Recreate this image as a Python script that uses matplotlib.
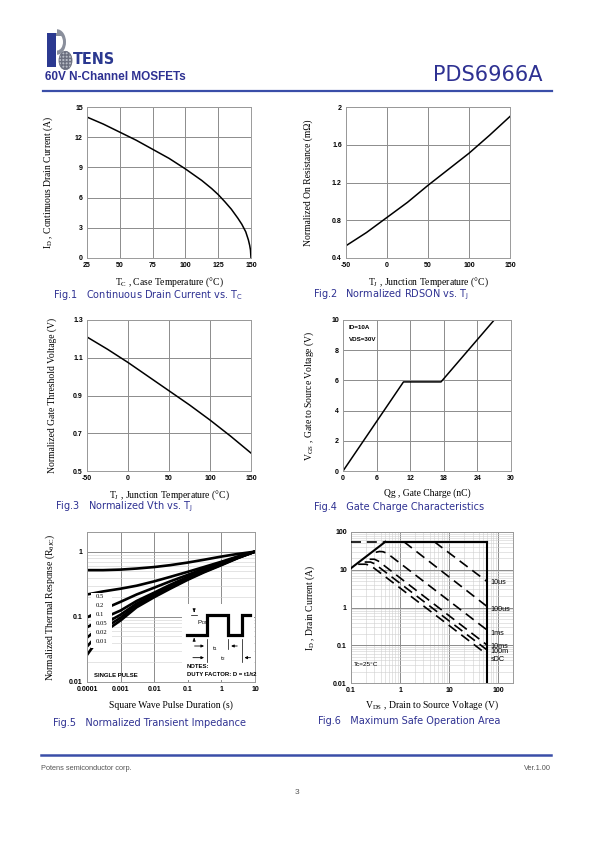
import matplotlib
matplotlib.use('Agg')
import matplotlib.pyplot as plt
from matplotlib.patches import Rectangle, Circle, Wedge
from matplotlib.lines import Line2D

plt.rcParams['font.family'] = ['Liberation Sans', 'DejaVu Sans']
plt.rcParams['mathtext.fontset'] = 'custom'
plt.rcParams['mathtext.rm'] = 'Liberation Serif'
plt.rcParams['mathtext.it'] = 'Liberation Serif:italic'
plt.rcParams['mathtext.bf'] = 'Liberation Serif:bold'
plt.rcParams['mathtext.sf'] = 'DejaVu Sans'

# ---------------- data ----------------
# Fig.1 continuous drain current vs case temperature
fig1_tc = [25, 37.5, 50, 62.5, 75, 87.5, 100, 112.5, 120, 125, 130, 135, 140, 143, 146, 148, 149, 149.6, 150]
fig1_id = [14.0, 13.3, 12.5, 11.7, 10.8, 9.9, 8.85, 7.7, 6.9, 6.3, 5.6, 4.85, 3.95, 3.35, 2.6, 1.8, 1.25, 0.8, 0.0]
fig1_xticks = [25, 50, 75, 100, 125, 150]
fig1_yticks = [0, 3, 6, 9, 12, 15]

# Fig.2 normalized RDSON vs TJ
fig2_tj = [-50, -25, 0, 25, 50, 75, 100, 125, 150]
fig2_r = [0.53, 0.67, 0.83, 0.99, 1.17, 1.34, 1.51, 1.70, 1.90]
fig2_xticks = [-50, 0, 50, 100, 150]
fig2_yticks = [0.4, 0.8, 1.2, 1.6, 2.0]
fig2_yticklabels = ['0.4', '0.8', '1.2', '1.6', '2']

# Fig.3 normalized Vth vs TJ
fig3_tj = [-50, -25, 0, 25, 50, 75, 100, 125, 150]
fig3_v = [1.21, 1.145, 1.075, 1.0, 0.925, 0.85, 0.77, 0.685, 0.595]
fig3_xticks = [-50, 0, 50, 100, 150]
fig3_yticks = [0.5, 0.7, 0.9, 1.1, 1.3]

# Fig.4 gate charge
fig4_qg = [0, 10.8, 17.5, 27]
fig4_vgs = [0, 5.9, 5.9, 10]
fig4_xticks = [0, 6, 12, 18, 24, 30]
fig4_yticks = [0, 2, 4, 6, 8, 10]

# Fig.5 normalized transient impedance
fig5_t = [1e-4, 3e-4, 1e-3, 3e-3, 1e-2, 3e-2, 0.1, 0.3, 1, 3, 10]
fig5_d05 = [0.52, 0.52, 0.53, 0.55, 0.58, 0.62, 0.68, 0.75, 0.84, 0.92, 1.0]
fig5_d02 = [0.22, 0.245, 0.27, 0.30, 0.35, 0.41, 0.49, 0.58, 0.70, 0.84, 1.0]
fig5_d01 = [0.098, 0.13, 0.17, 0.22, 0.28, 0.35, 0.44, 0.55, 0.67, 0.82, 1.0]
fig5_d005 = [0.069, 0.095, 0.125, 0.175, 0.235, 0.31, 0.41, 0.52, 0.65, 0.81, 1.0]
fig5_d002 = [0.048, 0.076, 0.108, 0.16, 0.22, 0.29, 0.39, 0.50, 0.64, 0.80, 1.0]
fig5_d001 = [0.035, 0.065, 0.097, 0.15, 0.21, 0.28, 0.38, 0.49, 0.63, 0.80, 1.0]
fig5_single = [0.026, 0.057, 0.088, 0.14, 0.20, 0.27, 0.37, 0.48, 0.62, 0.79, 1.0]
fig5_labels = ['0.5', '0.2', '0.1', '0.05', '0.02', '0.01']
fig5_xticks = [1e-4, 1e-3, 1e-2, 1e-1, 1, 10]
fig5_xticklabels = ['0.0001', '0.001', '0.01', '0.1', '1', '10']
fig5_yticks = [0.01, 0.1, 1]
fig5_yticklabels = ['0.01', '0.1', '1']

# Fig.6 safe operating area
soa_rds_v = [0.1, 0.5]
soa_rds_i = [11, 55]
soa_ilim_v = [0.1, 0.5]
soa_ilim_i = [55, 55]
soa_top_v = [0.5, 60]
soa_top_i = [55, 55]
soa_vmax_v = [60, 60]
soa_vmax_i = [55, 0.01]
soa_10us_v = [5, 60]
soa_10us_i = [55, 4.8]
soa_100us_v = [1.2, 60]
soa_100us_i = [55, 1.05]
soa_1ms_v = [0.32, 0.38, 0.45, 0.55, 60]
soa_1ms_i = [29, 30.5, 30, 27, 0.25]
soa_10ms_v = [0.24, 0.3, 0.36, 60]
soa_10ms_i = [19, 19, 17, 0.1]
soa_100ms_v = [0.19, 0.25, 0.3, 60]
soa_100ms_i = [16, 16, 14.5, 0.074]
soa_dc_v = [0.14, 0.2, 0.25, 60]
soa_dc_i = [14, 14, 13, 0.056]
soa_labels = ['10us', '100us', '1ms', '10ms', '100m', 'sDC']
soa_label_i = [4.7, 0.88, 0.21, 0.095, 0.068, 0.043]
fig6_xticks = [0.1, 1, 10, 100]
fig6_xticklabels = ['0.1', '1', '10', '100']
fig6_yticks = [0.01, 0.1, 1, 10, 100]
fig6_yticklabels = ['0.01', '0.1', '1', '10', '100']

# ---------------- layout helpers ----------------
W, H = 595, 842
fig = plt.figure(figsize=(W / 100, H / 100), dpi=100)


def rect(l, t, r, b):
    return [l / W, 1 - b / H, (r - l) / W, (b - t) / H]


def P(x, y):
    return (x / W, 1 - y / H)


BLUE = '#2e3192'
GRID = '#8c8c8c'
FRAME = '#9a9a9a'
TICKFONT = dict(fontsize=5.0, fontweight='bold', family=['Liberation Sans', 'DejaVu Sans'])
LABFONT = dict(fontsize=6.9, family=['Liberation Serif', 'DejaVu Serif'])


def style(ax, xticks, yticks, xtl=None, ytl=None, xlab='', ylab='',
          xlc=-0.113, ylc=-0.19, minor=False):
    ax.set_xticks(xticks)
    ax.set_yticks(yticks)
    ax.set_xticklabels(xtl if xtl is not None else [str(v) for v in xticks], **TICKFONT)
    ax.set_yticklabels(ytl if ytl is not None else [str(v) for v in yticks], **TICKFONT)
    ax.tick_params(which='both', length=0, pad=3, colors='black')
    ax.grid(True, which='major', color=GRID, lw=0.7)
    if minor:
        ax.grid(True, which='minor', color='#cfcfcf', lw=0.4)
    for s in ax.spines.values():
        s.set_color(FRAME)
        s.set_linewidth(0.7)
    ax.set_axisbelow(True)
    ax.set_xlabel(xlab, **LABFONT)
    ax.set_ylabel(ylab, **LABFONT)
    ax.xaxis.set_label_coords(0.5, xlc)
    ax.yaxis.set_label_coords(ylc, 0.5)
    ax.xaxis.label.set_va('top')


# ---------------- Fig.1 ----------------
ax1 = fig.add_axes(rect(87, 107, 251, 258))
ax1.plot(fig1_tc, fig1_id, color='black', lw=1.1)
ax1.set_xlim(25, 150)
ax1.set_ylim(0, 15)
style(ax1, fig1_xticks, fig1_yticks,
      xlab=r'$\mathrm{T_C}$ , Case Temperature (°C)',
      ylab=r'$\mathrm{I_D}$ , Continuous Drain Current (A)', ylc=-0.195)

# ---------------- Fig.2 ----------------
ax2 = fig.add_axes(rect(346, 107, 510, 258))
ax2.plot(fig2_tj, fig2_r, color='black', lw=1.1)
ax2.set_xlim(-50, 150)
ax2.set_ylim(0.4, 2.0)
style(ax2, fig2_xticks, fig2_yticks, ytl=fig2_yticklabels,
      xlab=r'$\mathrm{T_J}$ , Junction Temperature (°C)',
      ylab='Normalized On Resistance (mΩ)', ylc=-0.2)

# ---------------- Fig.3 ----------------
ax3 = fig.add_axes(rect(87, 320, 251, 471))
ax3.plot(fig3_tj, fig3_v, color='black', lw=1.1)
ax3.set_xlim(-50, 150)
ax3.set_ylim(0.5, 1.3)
style(ax3, fig3_xticks, fig3_yticks,
      xlab=r'$\mathrm{T_J}$ , Junction Temperature (°C)',
      ylab='Normalized Gate Threshold Voltage (V)', ylc=-0.183)

# ---------------- Fig.4 ----------------
ax4 = fig.add_axes(rect(343, 320, 511, 471))
ax4.plot(fig4_qg, fig4_vgs, color='black', lw=1.1)
ax4.set_xlim(0, 30)
ax4.set_ylim(0, 10)
style(ax4, fig4_xticks, fig4_yticks,
      xlab='Qg , Gate Charge (nC)',
      ylab=r'$\mathrm{V_{GS}}$ , Gate to Source Voltage (V)', ylc=-0.161)
ax4.text(0.035, 0.965, 'ID=10A', transform=ax4.transAxes, fontsize=4.5,
         fontweight='bold', va='top', ha='left')
ax4.text(0.035, 0.89, 'VDS=30V', transform=ax4.transAxes, fontsize=4.5,
         fontweight='bold', va='top', ha='left')

# ---------------- Fig.5 ----------------
ax5 = fig.add_axes(rect(87, 532, 255, 682))
ax5.set_xscale('log')
ax5.set_yscale('log')
for ys in [fig5_d05, fig5_d02, fig5_d01, fig5_d005, fig5_d002, fig5_d001, fig5_single]:
    ax5.plot(fig5_t, ys, color='black', lw=1.9, solid_capstyle='butt', zorder=2)
ax5.set_xlim(1e-4, 10)
ax5.set_ylim(0.01, 2)
style(ax5, fig5_xticks, fig5_yticks, xtl=fig5_xticklabels, ytl=fig5_yticklabels,
      xlab='Square Wave Pulse Duration (s)',
      ylab=r'Normalized Thermal Response ($\mathrm{R_{\theta JC}}$)',
      xlc=-0.12, ylc=-0.179, minor=True)
ax5.tick_params(which='minor', length=0)
ax5.xaxis.set_minor_formatter(plt.NullFormatter())
ax5.yaxis.set_minor_formatter(plt.NullFormatter())
# label box
ax5.add_patch(Rectangle((0.026, 0.225), 0.122, 0.37, transform=ax5.transAxes,
                        facecolor='white', edgecolor='none', zorder=3))
for k, lab in enumerate(fig5_labels):
    ax5.text(0.05, 0.567 - k * 0.059, lab, transform=ax5.transAxes, fontsize=4.8,
             family=['Liberation Serif'], va='center', ha='left', zorder=4)
ax5.text(0.04, 0.045, 'SINGLE PULSE', transform=ax5.transAxes, fontsize=4.3,
         fontweight='bold', va='center', ha='left', zorder=4)
# inset (duty factor diagram)
ax5.add_patch(Rectangle((0.564, 0.012), 0.43, 0.51, transform=ax5.transAxes,
                        facecolor='white', edgecolor='none', zorder=3))


def fx(x):
    return (x - 140) / 505


def fy(y):
    return (470 - y) / 450


wx = [440, 500, 500, 565, 565, 605, 605, 630]
wy = [330, 330, 268, 268, 330, 330, 268, 268]
ax5.add_line(Line2D([fx(v) for v in wx], [fy(v) for v in wy], transform=ax5.transAxes,
                    color='black', lw=2.3, zorder=5, solid_joinstyle='miter'))
ak = dict(arrowstyle='-|>', color='black', lw=0.6, mutation_scale=4)
ax5.annotate('', xy=(fx(462), fy(268)), xytext=(fx(462), fy(250)),
             xycoords='axes fraction', arrowprops=ak, zorder=6)
ax5.annotate('', xy=(fx(462), fy(330)), xytext=(fx(462), fy(350)),
             xycoords='axes fraction', arrowprops=ak, zorder=6)
ax5.add_line(Line2D([fx(452), fx(472)], [fy(268), fy(268)], transform=ax5.transAxes,
                    color='black', lw=0.5, zorder=6))
ax5.text(fx(470), fy(292), r'P$_{\mathsf{DM}}$', transform=ax5.transAxes, fontsize=4.4,
         va='center', ha='left', zorder=6)
for xv, y0, y1 in [(500, 340, 410), (565, 340, 372), (605, 340, 410)]:
    ax5.add_line(Line2D([fx(xv), fx(xv)], [fy(y0), fy(y1)], transform=ax5.transAxes,
                        color='black', lw=0.5, zorder=6))
ax5.annotate('', xy=(fx(500), fy(362)), xytext=(fx(455), fy(362)),
             xycoords='axes fraction', arrowprops=ak, zorder=6)
ax5.annotate('', xy=(fx(565), fy(362)), xytext=(fx(600), fy(362)),
             xycoords='axes fraction', arrowprops=ak, zorder=6)
ax5.text(fx(525), fy(370), r't$_{\mathsf{1}}$', transform=ax5.transAxes, fontsize=4.4,
         va='center', ha='center', zorder=6)
ax5.annotate('', xy=(fx(500), fy(397)), xytext=(fx(450), fy(397)),
             xycoords='axes fraction', arrowprops=ak, zorder=6)
ax5.annotate('', xy=(fx(605), fy(397)), xytext=(fx(640), fy(397)),
             xycoords='axes fraction', arrowprops=ak, zorder=6)
ax5.text(fx(550), fy(400), r't$_{\mathsf{2}}$', transform=ax5.transAxes, fontsize=4.4,
         va='center', ha='center', zorder=6)
ax5.text(fx(440), fy(425), 'NOTES:', transform=ax5.transAxes, fontsize=4.3,
         fontweight='bold', va='center', ha='left', zorder=6)
ax5.text(fx(440), fy(447), 'DUTY FACTOR: D = t1/t2', transform=ax5.transAxes, fontsize=4.3,
         fontweight='bold', va='center', ha='left', zorder=6)

# ---------------- Fig.6 ----------------
ax6 = fig.add_axes(rect(351, 532, 513, 683))
ax6.set_xscale('log')
ax6.set_yscale('log')
solid = dict(color='black', lw=1.5, zorder=3)
dash = dict(color='black', lw=1.2, dashes=(6, 3.5), zorder=3)
ax6.plot(soa_rds_v, soa_rds_i, **solid)
ax6.plot(soa_top_v, soa_top_i, **solid)
ax6.plot(soa_vmax_v, soa_vmax_i, **solid)
ax6.plot(soa_ilim_v, soa_ilim_i, **dash)
for v, i in [(soa_10us_v, soa_10us_i), (soa_100us_v, soa_100us_i), (soa_1ms_v, soa_1ms_i),
             (soa_10ms_v, soa_10ms_i), (soa_100ms_v, soa_100ms_i), (soa_dc_v, soa_dc_i)]:
    ax6.plot(v, i, **dash)
ax6.set_xlim(0.1, 200)
ax6.set_ylim(0.01, 100)
style(ax6, fig6_xticks, fig6_yticks, xtl=fig6_xticklabels, ytl=fig6_yticklabels,
      xlab=r'$\mathrm{V_{DS}}$ , Drain to Source Voltage (V)',
      ylab=r'$\mathrm{I_D}$ , Drain Current (A)', xlc=-0.1, ylc=-0.21, minor=True)
ax6.tick_params(which='minor', length=0)
ax6.xaxis.set_minor_formatter(plt.NullFormatter())
ax6.yaxis.set_minor_formatter(plt.NullFormatter())
for lab, iv in zip(soa_labels, soa_label_i):
    ax6.text(70, iv, lab, fontsize=5.2, va='center', ha='left', zorder=5)
ax6.text(0.02, 0.12, 'Tc=25°C', transform=ax6.transAxes, fontsize=4.6,
         va='center', ha='left')

# ---------------- captions ----------------
cap = dict(fontsize=7.0, color=BLUE, family=['DejaVu Sans'], va='center', ha='left')
fig.text(*P(53, 295), r'Fig.1   Continuous Drain Current vs. $\mathsf{T_C}$', **cap)
fig.text(*P(313, 295), r'Fig.2   Normalized RDSON vs. $\mathsf{T_J}$', **cap)
fig.text(*P(55, 507), r'Fig.3   Normalized Vth vs. $\mathsf{T_J}$', **cap)
fig.text(*P(314, 507), 'Fig.4   Gate Charge Characteristics', **cap)
fig.text(*P(53, 723), 'Fig.5   Normalized Transient Impedance', **cap)
fig.text(*P(318, 721), 'Fig.6   Maximum Safe Operation Area', **cap)

# ---------------- header ----------------
NAVY = '#2b3990'
fig.patches.append(Rectangle(P(47, 67), 9 / W, 34 / H, transform=fig.transFigure,
                             facecolor=NAVY, edgecolor='none'))
fig.patches.append(Wedge(P(57, 42), 9 / W * 1.0, -90, 90, width=3 / W,
                         transform=fig.transFigure, facecolor='#8a8f9c', edgecolor='none'))
fig.patches.append(Rectangle(P(56, 36), 6 / W, 3 / H, transform=fig.transFigure,
                             facecolor='#8a8f9c', edgecolor='none'))
fig.patches.append(Circle(P(65.5, 60.5), 6.5 / W, transform=fig.transFigure,
                          facecolor='#b8bcc6', edgecolor='#6c7080', lw=0.6, hatch='+++++'))
fig.text(*P(73, 59), 'TENS', fontsize=11.5, fontweight='bold', color=NAVY,
         family=['DejaVu Sans'], va='center', ha='left', fontstretch='condensed')
fig.text(*P(45, 77), '60V N-Channel MOSFETs', fontsize=8.5, fontweight='bold',
         color=BLUE, va='center', ha='left')
fig.text(*P(433, 75), 'PDS6966A', fontsize=15, color=BLUE, family=['DejaVu Sans'],
         va='center', ha='left')
fig.add_artist(Line2D([43 / W, 552 / W], [1 - 90.5 / H] * 2, color='#3a4ea8', lw=1.6))

# ---------------- footer ----------------
fig.add_artist(Line2D([41 / W, 551 / W], [1 - 755 / H] * 2, color='#3a4ea8', lw=1.8))
fig.text(*P(41, 769), 'Potens semiconductor corp.', fontsize=5.3, color='#555555',
         va='center', ha='left')
fig.text(*P(551, 769), 'Ver.1.00', fontsize=5.3, color='#555555', va='center', ha='right')
fig.text(*P(297, 793), '3', fontsize=6, color='#555555', va='center', ha='center')

fig.savefig('out.png', dpi=100, facecolor='white')
